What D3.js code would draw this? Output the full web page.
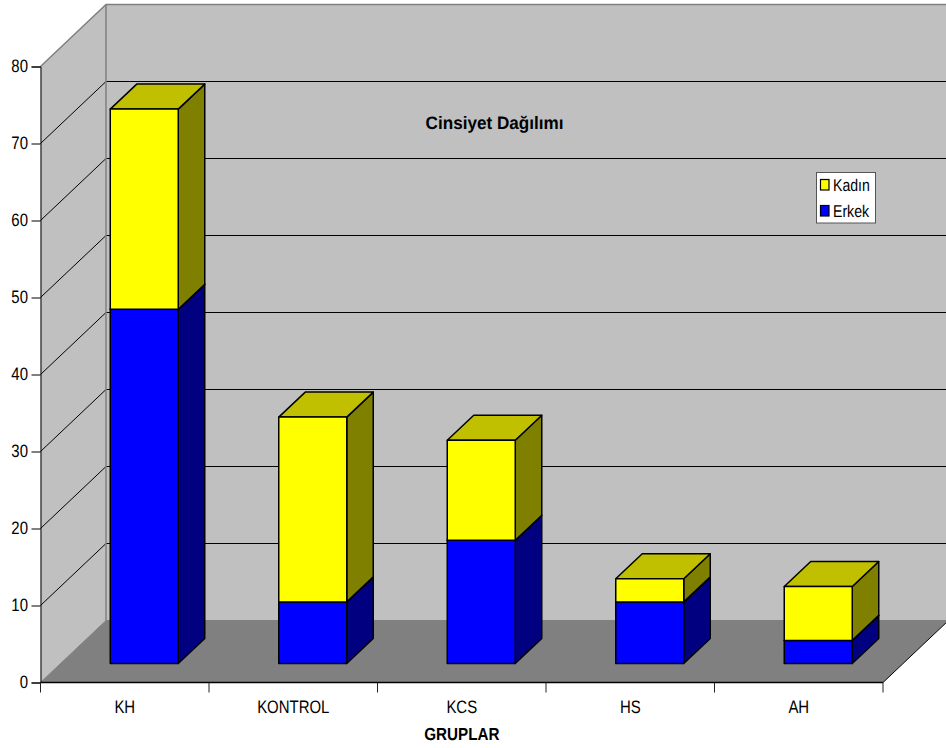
<!DOCTYPE html>
<html>
<head>
<meta charset="utf-8">
<script src="https://cdn.jsdelivr.net/npm/d3@7"></script>
<style>
html,body{margin:0;padding:0;background:#fff}
svg{display:block}
text{font-family:"Liberation Sans",Arial,sans-serif;fill:#000;text-rendering:geometricPrecision}
</style>
</head>
<body>
<svg id="chart" width="946" height="748"></svg>
<script>
const groups = ["KH", "KONTROL", "KCS", "HS", "AH"];
const erkek = [46, 8, 16, 8, 3];
const kadin = [26, 24, 13, 3, 7];
const yTicks = [0, 10, 20, 30, 40, 50, 60, 70, 80];
const seriesNames = ["Erkek", "Kadın"];
const chartTitle = "Cinsiyet Dağılımı";
const xTitle = "GRUPLAR";

const svg = d3.select("#chart");
const plotLeft = 40.5, plotRight = 883, plotBottom = 682.5, plotTop = 66.5;
const depthX = 65.5, depthY = 62;       // offset of the back wall
const barInX = 19.5, barInY = 19;       // bar front face, measured from the front plane
const barDepthX = 26.5, barDepthY = 25; // bar depth
const narrow = 0.83;                    // horizontal squeeze of the label type

const x = d3.scaleBand().domain(groups).range([plotLeft, plotRight]).paddingInner(0).paddingOuter(0);
const y = d3.scaleLinear().domain([0, 80]).range([plotBottom, plotTop]);
const barW = 68;

const poly = pts => "M" + pts.map(p => p.join(",")).join("L") + "Z";
const wall = svg.append("g");

// places a squeezed text label with its anchor at (px, py)
function label(parent, str, px, py, size, opts = {}) {
  return parent.append("text")
    .attr("transform", `translate(${px},${py}) scale(${opts.squeeze || narrow},1)`)
    .attr("text-anchor", opts.anchor || "start")
    .attr("font-size", size)
    .attr("font-weight", opts.weight || "normal")
    .text(str);
}

// back wall, side wall and floor
wall.append("path")
  .attr("d", poly([[plotLeft + depthX, y(80) - depthY], [plotRight + depthX, y(80) - depthY],
                   [plotRight + depthX, y(0) - depthY], [plotLeft + depthX, y(0) - depthY]]))
  .attr("fill", "#c0c0c0");
wall.append("path")
  .attr("d", poly([[plotLeft, y(80)], [plotLeft + depthX, y(80) - depthY],
                   [plotLeft + depthX, y(0) - depthY], [plotLeft, y(0)]]))
  .attr("fill", "#c0c0c0");
wall.append("path")
  .attr("d", poly([[plotLeft, y(0)], [plotLeft + depthX, y(0) - depthY],
                   [plotRight + depthX, y(0) - depthY], [plotRight, y(0)]]))
  .attr("fill", "#808080");

// gridlines run along the side wall and across the back wall
const grid = svg.append("g").attr("fill", "none").attr("stroke", "#000").attr("stroke-width", 1);
yTicks.filter(d => d > 0 && d < 80).forEach(d => {
  grid.append("path").attr("d",
    `M${plotLeft},${y(d)}L${plotLeft + depthX},${y(d) - depthY}L${plotRight + depthX},${y(d) - depthY}`);
});

// wall edges
const edges = svg.append("g").attr("fill", "none").attr("stroke", "#808080");
edges.append("path").attr("stroke-width", 1.5)
  .attr("d", `M${plotLeft},${y(80)}L${plotLeft + depthX},${y(80) - depthY}L${plotRight + depthX},${y(80) - depthY}`);
edges.append("path").attr("stroke-width", 1.5)
  .attr("d", `M${plotLeft + depthX},${y(80) - depthY}L${plotLeft + depthX},${y(0) - depthY}`);
edges.append("path").attr("stroke-width", 1)
  .attr("d", `M${plotLeft},${y(0)}L${plotLeft + depthX},${y(0) - depthY}L${plotRight + depthX},${y(0) - depthY}`);
svg.append("path").attr("fill", "none").attr("stroke", "#000").attr("stroke-width", 1)
  .attr("d", `M${plotRight},${y(0)}L${plotRight + depthX},${y(0) - depthY}`);

// stacked 3D columns
const stacker = d3.stack().keys([0, 1]).value((d, k) => d[k]);
const layers = stacker(groups.map((g, i) => [erkek[i], kadin[i]]));
const faces = [
  { front: "#0000ff", side: "#000080", top: "#0000c0" },
  { front: "#ffff00", side: "#808000", top: "#c0c000" }
];
const bars = svg.append("g").attr("stroke", "#000").attr("stroke-width", 1.5).attr("stroke-linejoin", "round");
layers.forEach((layer, k) => {
  const c = faces[k];
  layer.forEach((seg, i) => {
    const x0 = x(groups[i]) + x.bandwidth() / 2 - barW / 2 + barInX;
    const x1 = x0 + barW;
    const yLow = y(seg[0]) - barInY;
    const yHigh = y(seg[1]) - barInY;
    bars.append("path").attr("fill", c.side)
      .attr("d", poly([[x1, yLow], [x1 + barDepthX, yLow - barDepthY], [x1 + barDepthX, yHigh - barDepthY], [x1, yHigh]]));
    bars.append("path").attr("fill", c.top)
      .attr("d", poly([[x0, yHigh], [x0 + barDepthX, yHigh - barDepthY], [x1 + barDepthX, yHigh - barDepthY], [x1, yHigh]]));
    bars.append("path").attr("fill", c.front)
      .attr("d", poly([[x0, yLow], [x1, yLow], [x1, yHigh], [x0, yHigh]]));
  });
});

// value axis
const yAxis = d3.axisLeft(y).tickValues(yTicks).tickSize(9).tickPadding(3).tickFormat(d3.format("d"));
const yG = svg.append("g").attr("transform", `translate(${plotLeft},0)`).call(yAxis);
yG.select(".domain").attr("stroke", "#000").attr("stroke-width", 1);
yG.selectAll("line").attr("stroke", "#000");
yG.selectAll("text")
  .attr("x", null)
  .attr("transform", `translate(-12.5,-0.5) scale(${narrow},1)`)
  .attr("font-size", 18);

// category axis: ticks sit on the band boundaries
svg.append("line").attr("x1", plotLeft).attr("x2", plotRight).attr("y1", plotBottom).attr("y2", plotBottom)
  .attr("stroke", "#000").attr("stroke-width", 1.5);
svg.append("g").selectAll("line")
  .data(groups.map(g => x(g)).concat(plotRight))
  .join("line")
  .attr("x1", d => d).attr("x2", d => d)
  .attr("y1", plotBottom).attr("y2", plotBottom + 10)
  .attr("stroke", "#222");
const catLabels = svg.append("g");
groups.forEach(g => label(catLabels, g, x(g) + x.bandwidth() / 2, 713.3, 18, { anchor: "middle" }));

// titles
label(svg, chartTitle, 494.5, 129, 18, { anchor: "middle", weight: "bold", squeeze: 0.95 });
label(svg, xTitle, 461.8, 740, 17.5, { anchor: "middle", weight: "bold", squeeze: 0.87 });

// legend, top series first
const legend = svg.append("g");
legend.append("rect").attr("x", 816.5).attr("y", 172.5).attr("width", 59).attr("height", 50.5)
  .attr("fill", "#fff").attr("stroke", "#555").attr("stroke-width", 1);
[1, 0].forEach((k, row) => {
  legend.append("rect")
    .attr("x", 820.5).attr("y", 179.5 + row * 26).attr("width", 8.5).attr("height", 10.5)
    .attr("fill", faces[k].front).attr("stroke", "#000").attr("stroke-width", 1.2);
  label(legend, seriesNames[k], 833, 190.7 + row * 26, 17);
});
</script>
</body>
</html>
